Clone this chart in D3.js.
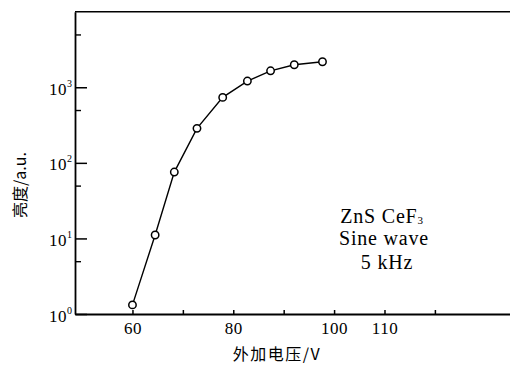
<!DOCTYPE html>
<html>
<head>
<meta charset="utf-8">
<script src="https://cdn.jsdelivr.net/npm/d3@7"></script>
<style>
  html, body { margin: 0; padding: 0; background: #fff; }
  svg { display: block; }
  .serif { font-family: "Liberation Serif", "DejaVu Serif", serif; }
  .cjk { font-family: "Noto Sans CJK SC", sans-serif; }
</style>
</head>
<body>
<svg id="chart" width="510" height="367"></svg>
<script>
// Applied voltage (V) and luminance (a.u.) of a ZnS:CeF3 cell, sine wave 5 kHz
const voltage   = [60, 64.5, 68.3, 72.8, 77.9, 82.8, 87.4, 92.1, 97.7];
const luminance = [1.32, 11.1, 75.5, 286, 735, 1208, 1652, 1986, 2175];

const xTicks       = [60, 70, 80, 90, 100, 110, 120];
const xTickLabels  = ["60", "", "80", "", "100", "110", ""];
const yMajorTicks  = [1, 10, 100, 1000];
const yExponents   = ["0", "1", "2", "3"];
const yMinorTicks  = [5, 50, 500, 5000];
const noteLines    = ["ZnS CeF", "Sine wave", "5 kHz"];

const svg = d3.select("#chart");
const ink = "#000";

const x = d3.scaleLinear().domain([48.6, 134.9]).range([75, 510]);
const y = d3.scaleLog().domain([1, 1e4]).range([314, 11.7]);

// top frame line
svg.append("line")
  .attr("x1", x.range()[0]).attr("x2", x.range()[1])
  .attr("y1", y.range()[1]).attr("y2", y.range()[1])
  .attr("stroke", ink).attr("stroke-width", 1.5);

// x axis with small inward ticks
const xAxis = svg.append("g")
  .attr("transform", `translate(0,${y.range()[0]})`)
  .call(d3.axisBottom(x)
    .tickValues(xTicks)
    .tickSizeInner(-4).tickSizeOuter(0)
    .tickPadding(8)
    .tickFormat((d, i) => xTickLabels[i]));
xAxis.select(".domain").attr("stroke", ink).attr("stroke-width", 1.8);
xAxis.selectAll(".tick line").attr("stroke", ink).attr("stroke-width", 1.5);
xAxis.selectAll(".tick text")
  .attr("class", "serif").attr("font-size", 17).attr("fill", ink)
  .attr("letter-spacing", 0.5);

// y axis: major decades
const yAxis = svg.append("g")
  .attr("transform", `translate(${x.range()[0]},0)`)
  .call(d3.axisLeft(y)
    .tickValues(yMajorTicks)
    .tickSizeInner(-12).tickSizeOuter(0)
    .tickPadding(3)
    .tickFormat(() => ""));
yAxis.select(".domain").attr("stroke", ink).attr("stroke-width", 1.8);
yAxis.selectAll(".tick line").attr("stroke", ink).attr("stroke-width", 1.5);
yAxis.selectAll(".tick text").each(function(d, i) {
  const t = d3.select(this)
    .attr("class", "serif").attr("font-size", 17).attr("fill", ink)
    .attr("dy", "0.42em");
  t.append("tspan").attr("letter-spacing", 0.5).text("10");
  t.append("tspan").attr("font-size", 10).attr("dy", "-0.8em").text(yExponents[i]);
});

// y axis: minor ticks at 5 x 10^n
const yMinor = svg.append("g")
  .attr("transform", `translate(${x.range()[0]},0)`)
  .call(d3.axisLeft(y).tickValues(yMinorTicks)
    .tickSizeInner(-6).tickSizeOuter(0).tickFormat(() => ""));
yMinor.select(".domain").remove();
yMinor.selectAll(".tick line").attr("stroke", ink).attr("stroke-width", 1.4);

// data curve
const pts = voltage.map((v, i) => [v, luminance[i]]);
svg.append("path")
  .datum(pts)
  .attr("fill", "none").attr("stroke", ink).attr("stroke-width", 1.4)
  .attr("d", d3.line().x(d => x(d[0])).y(d => y(d[1])));

svg.selectAll("circle.pt")
  .data(pts).join("circle")
  .attr("class", "pt")
  .attr("cx", d => x(d[0])).attr("cy", d => y(d[1]))
  .attr("r", 3.7)
  .attr("fill", "#fff").attr("stroke", ink).attr("stroke-width", 1.5);

// axis titles
svg.append("text")
  .attr("class", "cjk").attr("font-size", 16).attr("fill", ink)
  .attr("text-anchor", "middle").attr("letter-spacing", 1.5)
  .attr("x", 277).attr("y", 360)
  .text("外加电压/V");

svg.append("text")
  .attr("class", "cjk").attr("font-size", 16).attr("fill", ink)
  .attr("text-anchor", "middle")
  .attr("transform", "translate(26,185) rotate(-90)")
  .text("亮度/a.u.");

// sample annotation
const note = svg.append("g").attr("class", "serif").attr("fill", ink)
  .attr("font-size", 20).attr("letter-spacing", 0.8);
const l1 = note.append("text").attr("x", 382).attr("y", 223).attr("text-anchor", "middle");
l1.append("tspan").text(noteLines[0]);
l1.append("tspan").attr("font-size", 11).attr("dy", "0.1em").text("3");
note.append("text").attr("x", 384).attr("y", 245).attr("text-anchor", "middle").text(noteLines[1]);
note.append("text").attr("x", 387).attr("y", 269).attr("text-anchor", "middle").text(noteLines[2]);
</script>
</body>
</html>
